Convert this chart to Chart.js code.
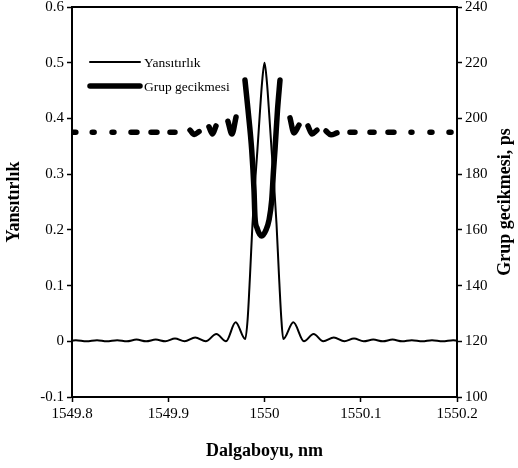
<!DOCTYPE html>
<html>
<head>
<meta charset="utf-8">
<script src="https://cdn.jsdelivr.net/npm/chart.js@4.4.1/dist/chart.umd.min.js"></script>
<style>
  html, body { margin: 0; padding: 0; background: #fff; }
</style>
</head>
<body>
<canvas id="chart-grating" width="518" height="468"></canvas>
<script>
// reflectance spectrum (left axis)
const wavelength = [
  1549.800, 1549.804, 1549.815, 1549.826, 1549.836, 1549.847, 1549.857, 1549.867,
  1549.877, 1549.887, 1549.897, 1549.907, 1549.917, 1549.928, 1549.939, 1549.950,
  1549.960, 1549.970, 1549.980, 1549.9825, 1549.985, 1549.9875, 1549.990, 1549.9925,
  1549.995, 1549.9975, 1550.000, 1550.0025, 1550.005, 1550.0075, 1550.010, 1550.0125,
  1550.015, 1550.0175, 1550.0195, 1550.030, 1550.041, 1550.051, 1550.061, 1550.072,
  1550.083, 1550.093, 1550.103, 1550.113, 1550.123, 1550.133, 1550.143, 1550.153,
  1550.164, 1550.174, 1550.185, 1550.196, 1550.200
];
const reflectance = [
  0.001, 0.002, 0.000, 0.002, 0.000, 0.002, 0.000, 0.003,
  0.000, 0.003, 0.000, 0.005, 0.000, 0.007, 0.000, 0.013,
  0.000, 0.034, 0.004, 0.04, 0.12, 0.21, 0.28, 0.34,
  0.405, 0.465, 0.500, 0.465, 0.405, 0.34, 0.28, 0.21,
  0.12, 0.04, 0.004, 0.034, 0.000, 0.013, 0.000, 0.007,
  0.000, 0.005, 0.000, 0.003, 0.000, 0.003, 0.000, 0.002,
  0.000, 0.002, 0.000, 0.002, 0.001
];

// group delay (right axis), null = gap in the curve
const gdWavelength = [
  1549.801, 1549.804, 1549.812,
  1549.821, 1549.823, 1549.832,
  1549.8416, 1549.8436, 1549.852,
  1549.8613, 1549.8675, 1549.875,
  1549.8821, 1549.8883, 1549.895,
  1549.9018, 1549.907, 1549.915,
  1549.9226, 1549.927, 1549.932, 1549.937,
  1549.9423, 1549.946, 1549.9496, 1549.956,
  1549.962, 1549.9662, 1549.9704, 1549.975,
  1549.9797, 1549.9829, 1549.9867, 1549.9891, 1549.9901, 1549.9922, 1549.9971,
  1550.0016, 1550.0047, 1550.0075, 1550.0094, 1550.0109, 1550.0135, 1550.0161, 1550.021,
  1550.0265, 1550.0306, 1550.0358, 1550.040,
  1550.0452, 1550.0494, 1550.0545, 1550.060,
  1550.0639, 1550.0691, 1550.0753, 1550.082,
  1550.0888, 1550.094, 1550.102,
  1550.1096, 1550.1138, 1550.121,
  1550.1283, 1550.1345, 1550.143,
  1550.1522, 1550.1532, 1550.162,
  1550.1719, 1550.174, 1550.182,
  1550.1917, 1550.1938
];
const groupDelay = [
  195, 195, null,
  195, 195, null,
  195, 195, null,
  195, 195, null,
  195, 195, null,
  195, 195, null,
  195.8, 194.2, 195.3, null,
  197.0, 194.4, 197.3, null,
  199.0, 194.4, 200.5, null,
  213.8, 203.0, 188.7, 174.3, 164.6, 160.7, 157.8,
  160.0, 163.5, 170.7, 181.5, 188.7, 203.0, 213.8, null,
  200.2, 194.8, 197.6, null,
  197.3, 194.4, 195.8, null,
  195.5, 194.1, 194.8, null,
  195, 195, null,
  195, 195, null,
  195, 195, null,
  195, 195, null,
  195, 195, null,
  195, 195
];

const xTickLabels = ['1549.8', '1549.9', '1550', '1550.1', '1550.2'];
const yTickLabels = ['-0.1', '0', '0.1', '0.2', '0.3', '0.4', '0.5', '0.6'];
const y1TickLabels = ['100', '120', '140', '160', '180', '200', '220', '240'];
const seriesNames = ['Yansıtırlık', 'Grup gecikmesi'];
const xTitle = 'Dalgaboyu, nm';
const yTitle = 'Yansıtırlık';
const y1Title = 'Grup gecikmesi, ps';

const serif = '"Liberation Serif", "Times New Roman", serif';
Chart.defaults.font.family = serif;
Chart.defaults.color = '#000';

const tickFont = { family: serif, size: 15 };
const titleFont = { family: serif, size: 18, weight: 'bold' };

// top edge of the frame, legend in the plot, right title reading upwards
const overlay = {
  id: 'overlay',
  afterDraw(chart) {
    const { ctx, chartArea: a } = chart;
    ctx.save();
    ctx.strokeStyle = '#000';
    ctx.lineWidth = 2;
    ctx.beginPath();
    ctx.moveTo(a.left - 1, a.top);
    ctx.lineTo(a.right + 1, a.top);
    ctx.stroke();

    ctx.font = '13.5px ' + serif;
    ctx.textBaseline = 'middle';
    ctx.fillStyle = '#000';
    chart.data.datasets.forEach((ds, i) => {
      const y = a.top + 55 + i * 24;
      ctx.lineWidth = ds.borderWidth;
      ctx.lineCap = 'round';
      ctx.beginPath();
      ctx.moveTo(a.left + 18, y);
      ctx.lineTo(a.left + 68, y);
      ctx.stroke();
      ctx.fillText(ds.label, a.left + 72, y + 1);
    });

    ctx.font = 'bold 18px ' + serif;
    ctx.textAlign = 'center';
    ctx.translate(chart.width - 13, (a.top + a.bottom) / 2);
    ctx.rotate(-Math.PI / 2);
    ctx.fillText(y1Title, 0, 0);
    ctx.restore();
  }
};

const axisGrid = {
  display: true,
  drawOnChartArea: false,
  drawTicks: true,
  tickLength: 5,
  tickColor: '#000',
  tickWidth: 1.5
};
const axisBorder = { display: true, color: '#000', width: 2 };

new Chart(document.getElementById('chart-grating'), {
  type: 'line',
  data: {
    datasets: [
      {
        label: seriesNames[0],
        data: wavelength.map((w, i) => ({ x: w, y: reflectance[i] })),
        yAxisID: 'y',
        borderColor: '#000',
        borderWidth: 2,
        pointRadius: 0,
        cubicInterpolationMode: 'monotone',
        fill: false
      },
      {
        label: seriesNames[1],
        data: gdWavelength.map((w, i) => ({ x: w, y: groupDelay[i] })),
        yAxisID: 'y1',
        borderColor: '#000',
        borderWidth: 5.5,
        borderCapStyle: 'round',
        borderJoinStyle: 'round',
        pointRadius: 0,
        spanGaps: false,
        cubicInterpolationMode: 'monotone',
        fill: false
      }
    ]
  },
  options: {
    responsive: false,
    animation: false,
    devicePixelRatio: 1,
    layout: { padding: { top: 7, left: 0, right: 0, bottom: 0 } },
    plugins: {
      legend: { display: false },
      tooltip: { enabled: false }
    },
    scales: {
      x: {
        type: 'linear',
        min: 1549.8,
        max: 1550.2,
        afterFit: s => { s.height = 71; s.paddingLeft = 0; s.paddingRight = 0; },
        ticks: {
          stepSize: 0.1,
          autoSkip: false,
          maxRotation: 0,
          font: tickFont,
          color: '#000',
          callback: (v, i) => xTickLabels[i]
        },
        grid: axisGrid,
        border: axisBorder,
        title: { display: true, text: xTitle, font: titleFont, color: '#000', padding: { top: 0, bottom: 6 } }
      },
      y: {
        position: 'left',
        min: -0.1,
        max: 0.6,
        afterFit: s => { s.width = 72; s.paddingTop = 0; s.paddingBottom = 0; },
        ticks: { stepSize: 0.1, font: tickFont, color: '#000', callback: (v, i) => yTickLabels[i] },
        grid: axisGrid,
        border: axisBorder,
        title: { display: true, text: yTitle, font: titleFont, color: '#000', padding: { top: 4, bottom: 0 } }
      },
      y1: {
        position: 'right',
        min: 100,
        max: 240,
        afterFit: s => { s.width = 61; s.paddingTop = 0; s.paddingBottom = 0; },
        ticks: { stepSize: 20, font: tickFont, color: '#000', callback: (v, i) => y1TickLabels[i] },
        grid: axisGrid,
        border: axisBorder,
        title: { display: false, text: y1Title }
      }
    }
  },
  plugins: [overlay]
});
</script>
</body>
</html>
